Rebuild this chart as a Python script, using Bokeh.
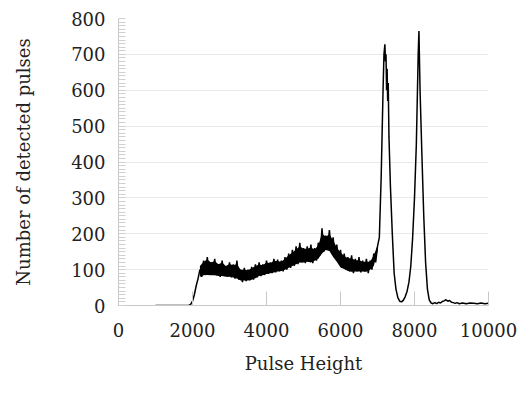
from bokeh.plotting import figure
from bokeh.models import Range1d, FixedTicker
from bokeh.embed import file_html
from bokeh.resources import INLINE

# Pulse-height spectrum (noisy band drawn as alternating readings)
pulse_height = [
    1000, 1500, 1900, 1950, 2000, 2050, 2100, 2150,
    2200, 2250, 2300, 2350, 2400, 2450, 2500, 2550, 2600, 2650, 2700, 2750,
    2800, 2850, 2900, 2950, 3000, 3050, 3100, 3150, 3200, 3250, 3300, 3350,
    3400, 3450, 3500, 3550, 3600, 3650, 3700, 3750, 3800, 3850, 3900, 3950,
    4000, 4050, 4100, 4150, 4200, 4250, 4300, 4350, 4400, 4450, 4500, 4550,
    4600, 4650, 4700, 4750, 4800, 4850, 4900, 4950, 5000, 5050, 5100, 5150,
    5200, 5250, 5300, 5350, 5400, 5450, 5500, 5550, 5600, 5650, 5700, 5750,
    5800, 5850, 5900, 5950, 6000, 6050, 6100, 6150, 6200, 6250, 6300, 6350,
    6400, 6450, 6500, 6550, 6600, 6650, 6700, 6750, 6800, 6850, 6900, 6950,
    7000, 7050, 7100, 7150, 7175, 7200, 7215, 7230, 7245, 7260, 7275, 7290, 7310, 7350,
    7400, 7450, 7500, 7550, 7600, 7650, 7700, 7750, 7800, 7850, 7900, 7950,
    8000, 8050, 8100, 8120, 8150, 8200, 8250, 8300, 8350, 8400, 8450, 8500,
    8550, 8600, 8650, 8700, 8750, 8800, 8850, 8900, 8950, 9000, 9050, 9100,
    9150, 9200, 9300, 9400, 9500, 9600, 9700, 9800, 9900, 10000,
]
pulses = [
    0, 0, 0, 3, 12, 30, 55, 75,
    100, 80, 125, 90, 135, 85, 120, 90, 130, 85, 115, 80,
    125, 85, 110, 80, 120, 78, 115, 75, 125, 72, 100, 65,
    105, 68, 100, 70, 108, 72, 115, 78, 120, 82, 115, 85,
    125, 88, 120, 90, 130, 92, 128, 95, 125, 95, 135, 100,
    145, 105, 155, 110, 165, 115, 175, 120, 160, 118, 165, 122,
    170, 118, 160, 125, 175, 140, 215, 150, 195, 160, 210, 150,
    190, 135, 170, 120, 155, 105, 145, 100, 135, 95, 140, 90,
    130, 95, 135, 92, 125, 95, 130, 90, 125, 100, 145, 120,
    165, 190, 360, 600, 700, 728, 680, 700, 600, 660, 570, 620, 470, 330,
    200, 90, 45, 22, 12, 10, 15, 25, 40, 65, 110, 190,
    300, 450, 700, 765, 600, 420, 250, 120, 45, 15, 7, 5,
    8, 5, 9, 7, 11, 13, 16, 12, 14, 9, 8, 6,
    8, 5, 7, 5, 7, 6, 5, 7, 5, 6,
]

# Envelope of the dense noisy band (low / high readings)
band_x = [2200, 2300, 2400, 2500, 2600, 2700, 2800, 2900, 3000, 3100, 3200, 3300,
          3400, 3500, 3600, 3700, 3800, 3900, 4000, 4100, 4200, 4300, 4400, 4500,
          4600, 4700, 4800, 4900, 5000, 5100, 5200, 5300, 5400, 5500, 5600, 5700,
          5800, 5900, 6000, 6100, 6200, 6300, 6400, 6500, 6600, 6700, 6800, 6900, 7000]
band_low = [80, 84, 85, 84, 84, 82, 82, 80, 80, 78, 75, 70,
            70, 70, 72, 76, 82, 84, 88, 90, 92, 95, 96, 100,
            105, 110, 115, 120, 120, 122, 120, 125, 130, 145, 155, 152,
            135, 122, 106, 102, 96, 94, 95, 95, 95, 94, 100, 110, 150]
band_high = [110, 122, 128, 120, 124, 115, 120, 110, 116, 112, 116, 100,
             100, 98, 104, 110, 114, 112, 120, 118, 125, 123, 122, 130,
             140, 148, 156, 165, 158, 158, 162, 156, 168, 200, 192, 198,
             182, 162, 148, 138, 132, 132, 126, 126, 122, 122, 122, 140, 168]

x_ticks = [0, 2000, 4000, 6000, 8000, 10000]
y_ticks = [0, 100, 200, 300, 400, 500, 600, 700, 800]

FONT = "DejaVu Serif"

p = figure(width=527, height=394, output_backend="svg", toolbar_location=None,
           x_range=Range1d(0, 10000), y_range=Range1d(0, 800),
           min_border_left=118, min_border_right=39, min_border_top=18,
           min_border_bottom=89)
p.outline_line_color = None
p.background_fill_color = "white"
p.border_fill_color = "white"

p.varea(x=band_x, y1=band_low, y2=band_high, fill_color="black")
p.line(pulse_height, pulses, line_color="black", line_width=1.5)

# x axis
xa = p.xaxis[0]
xa.ticker = FixedTicker(ticks=x_ticks)
xa.axis_label = "Pulse Height"
xa.axis_line_color = "#c8c8c8"
xa.major_tick_line_color = "#c8c8c8"
xa.major_tick_in = 14
xa.major_tick_out = 0
xa.minor_tick_line_color = None
xa.major_label_standoff = 17
xa.axis_label_standoff = 13
xa.major_label_text_font = FONT
xa.major_label_text_font_size = "18px"
xa.major_label_text_color = "#222222"
xa.axis_label_text_font = FONT
xa.axis_label_text_font_size = "18px"
xa.axis_label_text_font_style = "normal"
xa.axis_label_text_color = "#222222"

# y axis
ya = p.yaxis[0]
ya.ticker = FixedTicker(ticks=y_ticks, minor_ticks=list(range(0, 801, 10)))
ya.axis_label = "Number of detected pulses"
ya.axis_line_color = "#c8c8c8"
ya.major_tick_line_color = "#c8c8c8"
ya.major_tick_in = 0
ya.major_tick_out = 0
ya.minor_tick_line_color = "#d0d0d0"
ya.minor_tick_in = 7
ya.minor_tick_out = 0
ya.major_label_standoff = 13
ya.axis_label_standoff = 34
ya.major_label_text_font = FONT
ya.major_label_text_font_size = "18px"
ya.major_label_text_color = "#222222"
ya.axis_label_text_font = FONT
ya.axis_label_text_font_size = "18px"
ya.axis_label_text_font_style = "normal"
ya.axis_label_text_color = "#222222"

p.xgrid.grid_line_color = None
p.ygrid.grid_line_color = "#e8e8e8"
p.ygrid.ticker = FixedTicker(ticks=y_ticks)

open("out.html", "w").write(file_html(p, INLINE))
